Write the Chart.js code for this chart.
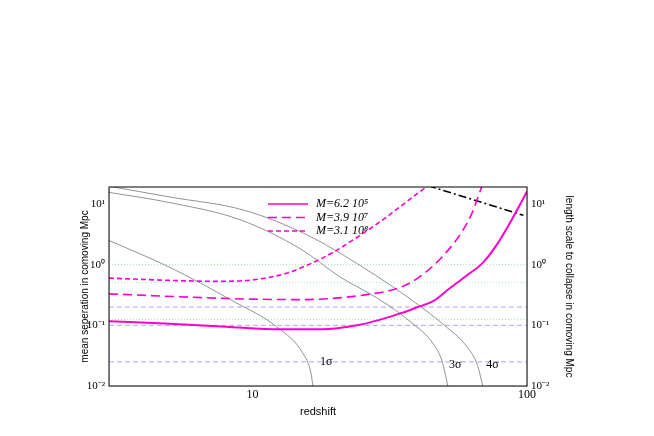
<!DOCTYPE html>
<html>
<head>
<meta charset="utf-8">
<script src="https://cdn.jsdelivr.net/npm/chart.js@4/dist/chart.umd.min.js"></script>
<style>
  html, body { margin: 0; padding: 0; background: #fff; }
  #wrap { width: 654px; height: 436px; }
</style>
</head>
<body>
<div id="wrap"><canvas id="myChart"></canvas></div>
<script>
// data (x = redshift, y = Mpc)
var m1z = [3, 5, 8, 12.6, 18, 24, 29, 35, 40, 45.5, 52, 60, 69, 78, 88, 100]
var m1y = [0.117, 0.106, 0.095, 0.086, 0.086, 0.1, 0.123, 0.16, 0.2, 0.25, 0.4, 0.65, 1.07, 2.2, 5.5, 16]
var m2z = [3, 6, 10, 15, 20, 26, 34.5, 40, 46, 52, 58, 63, 68.5]
var m2y = [0.33, 0.29, 0.27, 0.265, 0.28, 0.32, 0.42, 0.6, 1.0, 1.8, 3.5, 7, 19.5]
var m3z = [3, 5, 7.4, 10, 13, 16, 19.7, 24, 29, 34.5, 40, 45]
var m3y = [0.6, 0.55, 0.53, 0.56, 0.7, 1.0, 1.6, 2.8, 5, 9, 15, 22]
var s4z = [3, 5, 9.3, 16, 25.3, 38.5, 50, 60, 66, 69]
var s4y = [19.6, 13, 7.9, 3, 0.9, 0.25, 0.1, 0.046, 0.022, 0.01]
var s3z = [3, 5, 9, 15, 20.9, 28.5, 38, 45.5, 49, 51.5]
var s3y = [15.5, 10.5, 5.5, 1.8, 0.62, 0.28, 0.11, 0.05, 0.026, 0.01]
var s1z = [3, 5, 8.5, 12.3, 15.3, 16.3, 16.6]
var s1y = [2.5, 0.9, 0.25, 0.093, 0.034, 0.017, 0.01]
var cutZ = [43.6, 97]
var cutY = [20, 6.5]
var greenLevels = [1.0, 0.51, 0.125]
var blueLevels = [0.2, 0.1, 0.025]
var legendLabels = ['M=6.2 10⁵', 'M=3.9 10⁷', 'M=3.1 10⁸']
var sigmaLabels = [['1σ', 17.6, 0.025], ['3σ', 52, 0.022], ['4σ', 71, 0.022]]
var yTicks = [0.01, 0.1, 1, 10]
var yTickLabels = { '0.01': '10⁻²', '0.1': '10⁻¹', '1': '10⁰', '10': '10¹' }
var xTicks = [10, 100]

var magenta = 'rgb(255, 0, 204)'

function pts(xs, ys) {
  return xs.map(function (x, i) { return { x: x, y: ys[i] } })
}
function hline(v) {
  return [{ x: 3, y: v }, { x: 100, y: v }]
}

var datasets = [
  { data: pts(m1z, m1y), borderColor: magenta, borderWidth: 2 },
  { data: pts(m2z, m2y), borderColor: magenta, borderWidth: 1.6, borderDash: [9, 5] },
  { data: pts(m3z, m3y), borderColor: magenta, borderWidth: 1.6, borderDash: [5, 3] },
  { data: pts(s4z, s4y), borderColor: '#777', borderWidth: 0.8 },
  { data: pts(s3z, s3y), borderColor: '#777', borderWidth: 0.8 },
  { data: pts(s1z, s1y), borderColor: '#777', borderWidth: 0.8 },
  { data: pts(cutZ, cutY), borderColor: '#000', borderWidth: 1.6, borderDash: [8, 3, 2, 3] }
]
greenLevels.forEach(function (v) {
  datasets.push({ data: hline(v), borderColor: 'rgb(150, 220, 150)', borderWidth: 0.8, borderDash: [1, 2], tension: 0 })
})
blueLevels.forEach(function (v) {
  datasets.push({ data: hline(v), borderColor: 'rgb(140, 150, 240)', borderWidth: 0.8, borderDash: [5, 3], tension: 0 })
})
datasets.forEach(function (d) {
  d.pointRadius = 0
  d.fill = false
  if (d.tension === undefined) d.tension = 0.4
  d.cubicInterpolationMode = 'monotone'
})

var extras = {
  id: 'extras',
  afterDatasetsDraw: function (chart) {
    var c = chart.ctx, a = chart.chartArea
    var xs = chart.scales.x, ys = chart.scales.y
    c.save()
    c.strokeStyle = '#000'
    c.lineWidth = 1
    c.strokeRect(a.left, a.top, a.right - a.left, a.bottom - a.top)
    // legend
    var dashes = [[], [9, 5], [5, 3]]
    c.font = 'italic 12px "Liberation Serif"'
    c.textBaseline = 'middle'
    c.fillStyle = '#000'
    legendLabels.forEach(function (t, i) {
      var y = 204 + i * 13.5
      c.strokeStyle = magenta
      c.lineWidth = i === 0 ? 1.6 : 1.4
      c.setLineDash(dashes[i])
      c.beginPath(); c.moveTo(268, y); c.lineTo(308, y); c.stroke()
      c.fillText(t, 316, y)
    })
    c.setLineDash([])
    c.font = '12px "Liberation Serif"'
    sigmaLabels.forEach(function (s) {
      c.fillText(s[0], xs.getPixelForValue(s[1]), ys.getPixelForValue(s[2]))
    })
    c.restore()
  }
}

var logTicks = function (v) {
  var k = String(v)
  return yTickLabels[k] !== undefined ? yTickLabels[k] : ''
}
var ytickOpts = {
  color: '#000', font: { family: 'Liberation Serif', size: 11 }, callback: logTicks, padding: 2
}

new Chart(document.getElementById('myChart'), {
  type: 'line',
  data: { datasets: datasets },
  plugins: [extras],
  options: {
    responsive: true,
    maintainAspectRatio: false,
    animation: false,
    layout: { padding: { top: 187, left: 0, right: 0, bottom: 17 } },
    plugins: { legend: { display: false }, tooltip: { enabled: false } },
    scales: {
      x: {
        type: 'logarithmic', min: 3, max: 100,
        afterBuildTicks: function (s) { s.ticks = xTicks.map(function (v) { return { value: v } }) },
        afterFit: function (s) { s.height = 33 },
        grid: { display: false, tickLength: 2 },
        ticks: { color: '#000', font: { family: 'Liberation Serif', size: 12 }, maxRotation: 0, autoSkip: false, padding: 0,
          callback: function (v) { return String(v) } },
        title: { display: true, text: 'redshift', color: '#000', font: { family: 'Liberation Sans', size: 11 }, padding: 0 }
      },
      y: {
        type: 'logarithmic', min: 0.01, max: 19,
        afterBuildTicks: function (s) { s.ticks = yTicks.map(function (v) { return { value: v } }) },
        afterFit: function (s) { s.width = 30 },
        grid: { display: false, tickLength: 2 },
        ticks: ytickOpts,
        title: { display: true, text: 'mean seperation in comoving Mpc', color: '#000', font: { family: 'Liberation Sans', size: 10 }, padding: 0 }
      },
      y2: {
        type: 'logarithmic', position: 'right', min: 0.01, max: 19,
        afterBuildTicks: function (s) { s.ticks = yTicks.map(function (v) { return { value: v } }) },
        afterFit: function (s) { s.width = 50 },
        grid: { display: false, tickLength: 2 },
        ticks: ytickOpts,
        title: { display: true, text: 'length scale to collapse in comoving Mpc', color: '#000', font: { family: 'Liberation Sans', size: 10 }, padding: 2 }
      }
    },
    layout: { padding: { top: 187, left: 79, right: 77, bottom: 17 } }
  }
})
</script>
</body>
</html>
